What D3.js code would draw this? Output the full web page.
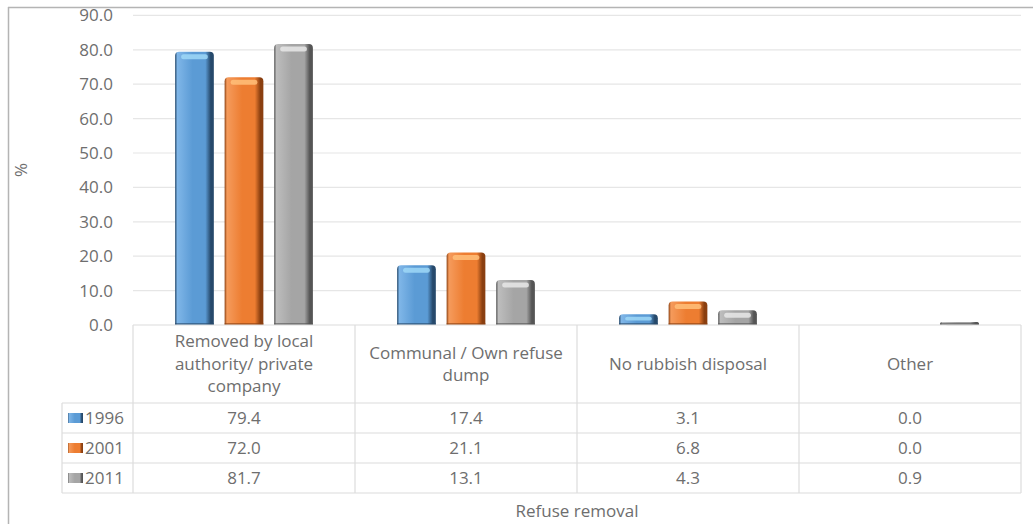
<!DOCTYPE html>
<html>
<head>
<meta charset="utf-8">
<script src="https://cdn.jsdelivr.net/npm/d3@7"></script>
<style>
  html, body { margin: 0; padding: 0; background: #fff; }
  svg { display: block; }
  text { font-family: "Open Sans", "Noto Sans", sans-serif; fill: #6e6e6e; }
</style>
</head>
<body>
<svg id="chart" width="1033" height="524"></svg>
<script>
// Refuse removal by household, share of households (%)
const categories = [
  "Removed by local\nauthority/ private\ncompany",
  "Communal / Own refuse\ndump",
  "No rubbish disposal",
  "Other"
];
const years = ["1996", "2001", "2011"];
const values1996 = [79.4, 17.4, 3.1, 0.0];
const values2001 = [72.0, 21.1, 6.8, 0.0];
const values2011 = [81.7, 13.1, 4.3, 0.9];
const yTicks = [0, 10, 20, 30, 40, 50, 60, 70, 80, 90];

const seriesValues = [values1996, values2001, values2011];
const palette = {
  "1996": { base: "#5b9bd5", light: "#7fb6e8", dark: "#26496b", cap: "#9fd8f7" },
  "2001": { base: "#ed7d31", light: "#f59b5c", dark: "#8a3f10", cap: "#ffc07a" },
  "2011": { base: "#a5a5a5", light: "#bdbdbd", dark: "#555555", cap: "#e8e8e8" }
};

const svg = d3.select("#chart");
const fontSize = 17;

// Plot region
const plotLeft = 133, plotRight = 1021, plotTop = 15.4, plotBottom = 325;
const headerBottom = 403, rowH = 30, legendLeft = 62;

const x0 = d3.scaleBand().domain(categories).range([plotLeft, plotRight]).padding(0);
const x1 = d3.scaleBand().domain(years).range([0, x0.bandwidth()])
  .paddingInner(0.218).paddingOuter(0.85);
const y = d3.scaleLinear().domain([0, 90]).range([plotBottom, plotTop]);

// Gradients for bevelled bars
const defs = svg.append("defs");
years.forEach(yr => {
  const c = palette[yr];
  const g = defs.append("linearGradient").attr("id", "grad" + yr)
    .attr("x1", "0%").attr("x2", "100%").attr("y1", "0%").attr("y2", "0%");
  g.append("stop").attr("offset", "0%").attr("stop-color", c.dark);
  g.append("stop").attr("offset", "6%").attr("stop-color", c.light);
  g.append("stop").attr("offset", "45%").attr("stop-color", c.base);
  g.append("stop").attr("offset", "78%").attr("stop-color", c.base);
  g.append("stop").attr("offset", "92%").attr("stop-color", c.dark);
  g.append("stop").attr("offset", "100%").attr("stop-color", c.dark);
});

// Outer frame (top and left edges)
svg.append("line").attr("x1", 8).attr("x2", 1033).attr("y1", 7.5).attr("y2", 7.5)
  .attr("stroke", "#b4b4b4").attr("stroke-width", 1.5);
svg.append("line").attr("x1", 8.5).attr("x2", 8.5).attr("y1", 7).attr("y2", 524)
  .attr("stroke", "#b4b4b4").attr("stroke-width", 1.5);

// Gridlines
svg.append("g").selectAll("line").data(yTicks.slice(1)).join("line")
  .attr("x1", plotLeft).attr("x2", plotRight)
  .attr("y1", d => y(d)).attr("y2", d => y(d))
  .attr("stroke", "#e6e6e6").attr("stroke-width", 1.2);

// Y axis labels
const yAxis = d3.axisLeft(y).tickValues(yTicks).tickFormat(d3.format(".1f")).tickSize(0).tickPadding(0);
const yg = svg.append("g").attr("transform", "translate(113,0)").call(yAxis);
yg.select(".domain").remove();
yg.selectAll("text").attr("font-size", fontSize).attr("fill", "#6e6e6e")
  .style("font-family", '"Open Sans", sans-serif');

// Y axis title
svg.append("text").attr("transform", "translate(27,170) rotate(-90)")
  .attr("text-anchor", "middle").attr("font-size", 17).text("%");

// Bars
const barData = [];
categories.forEach((cat, i) => {
  years.forEach((yr, s) => barData.push({ cat, yr, v: seriesValues[s][i] }));
});

function barPath(x, yTop, w, h) {
  const r = Math.min(4, h / 2, w / 2);
  return `M${x},${yTop + h} L${x},${yTop + r} Q${x},${yTop} ${x + r},${yTop} ` +
    `L${x + w - r},${yTop} Q${x + w},${yTop} ${x + w},${yTop + r} L${x + w},${yTop + h} Z`;
}

const bars = svg.append("g").selectAll("g").data(barData.filter(d => d.v > 0)).join("g");
bars.append("path")
  .attr("d", d => {
    const bx = x0(d.cat) + x1(d.yr), w = x1.bandwidth();
    return barPath(bx, y(d.v), w, y(0) - y(d.v));
  })
  .attr("fill", d => `url(#grad${d.yr})`);
// top highlight of each bevel
bars.append("rect")
  .attr("x", d => x0(d.cat) + x1(d.yr) + 6)
  .attr("y", d => y(d.v) + 2.5)
  .attr("width", x1.bandwidth() - 12)
  .attr("height", d => Math.min(5, Math.max(1.5, (y(0) - y(d.v)) * 0.35)))
  .attr("rx", 2.5)
  .attr("fill", d => palette[d.yr].cap).attr("opacity", 0.85);
// darker bottom rim
bars.append("rect")
  .attr("x", d => x0(d.cat) + x1(d.yr))
  .attr("y", y(0) - 2)
  .attr("width", x1.bandwidth())
  .attr("height", 2)
  .attr("fill", d => palette[d.yr].dark).attr("opacity", 0.6);

// Data table lines
const tableLine = "#dcdcdc";
const tbl = svg.append("g").attr("stroke", tableLine).attr("stroke-width", 1.2);
tbl.append("line").attr("x1", plotLeft).attr("x2", plotRight).attr("y1", plotBottom).attr("y2", plotBottom);
[0, 1, 2, 3].forEach(r => {
  const yy = headerBottom + r * rowH;
  tbl.append("line").attr("x1", legendLeft).attr("x2", plotRight).attr("y1", yy).attr("y2", yy);
});
x0.domain().forEach(c => {
  tbl.append("line").attr("x1", x0(c)).attr("x2", x0(c)).attr("y1", plotBottom).attr("y2", headerBottom + 3 * rowH);
});
tbl.append("line").attr("x1", plotRight).attr("x2", plotRight).attr("y1", plotBottom).attr("y2", headerBottom + 3 * rowH);
tbl.append("line").attr("x1", legendLeft).attr("x2", legendLeft).attr("y1", headerBottom).attr("y2", headerBottom + 3 * rowH);

// Category header labels
const lineH = 22.5;
const headerMid = (plotBottom + headerBottom) / 2;
svg.append("g").selectAll("text").data(categories).join("text")
  .attr("text-anchor", "middle").attr("font-size", fontSize)
  .each(function (d) {
    const lines = d.split("\n");
    const cx = x0(d) + x0.bandwidth() / 2;
    const startY = headerMid - (lines.length - 1) * lineH / 2;
    d3.select(this).selectAll("tspan").data(lines).join("tspan")
      .attr("x", cx).attr("y", (l, i) => startY + i * lineH).attr("dy", "0.35em").text(l => l);
  });

// Table values
years.forEach((yr, s) => {
  const cy = headerBottom + s * rowH + rowH / 2;
  svg.append("g").selectAll("text").data(categories).join("text")
    .attr("x", c => x0(c) + x0.bandwidth() / 2).attr("y", cy).attr("dy", "0.35em")
    .attr("text-anchor", "middle").attr("font-size", fontSize)
    .text((c, i) => d3.format(".1f")(seriesValues[s][i]));
  // legend key
  svg.append("rect").attr("x", 68).attr("y", cy - 5).attr("width", 15).attr("height", 10)
    .attr("fill", `url(#grad${yr})`);
  svg.append("text").attr("x", 85).attr("y", cy).attr("dy", "0.35em")
    .attr("font-size", fontSize).text(yr);
});

// X axis title
svg.append("text").attr("x", (plotLeft + plotRight) / 2).attr("y", 511).attr("dy", "0.35em")
  .attr("text-anchor", "middle").attr("font-size", fontSize).text("Refuse removal");
</script>
</body>
</html>
